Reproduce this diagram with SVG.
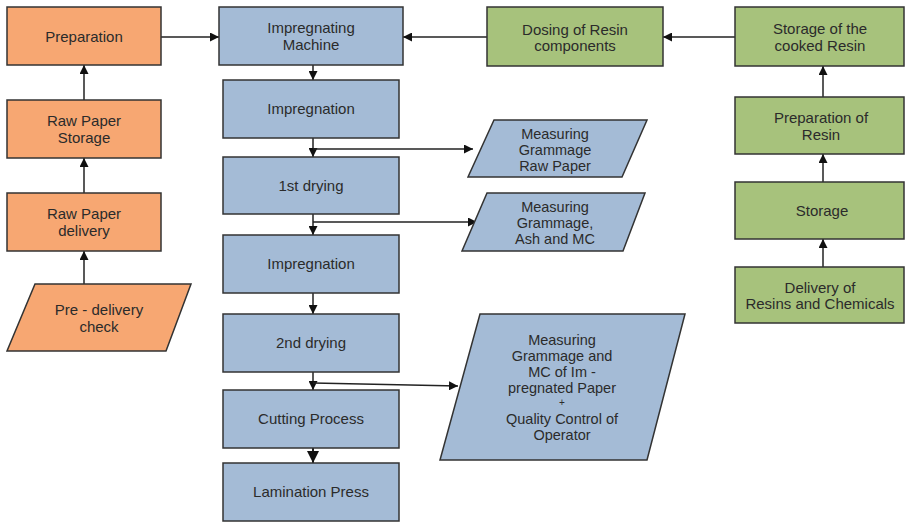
<svg xmlns="http://www.w3.org/2000/svg" width="905" height="522" viewBox="0 0 905 522">
<defs>
<marker id="ah" viewBox="0 0 10 10" refX="10" refY="5" markerWidth="9" markerHeight="9" markerUnits="userSpaceOnUse" orient="auto">
<path d="M0,0 L10,5 L0,10 z" fill="#111"/>
</marker>
<marker id="ahb" viewBox="0 0 10 10" refX="10" refY="5" markerWidth="12" markerHeight="12" markerUnits="userSpaceOnUse" orient="auto">
<path d="M0,0 L10,5 L0,10 z" fill="#111"/>
</marker>
</defs>
<style>
.o{fill:#F7A772;stroke:#333;stroke-width:1.5}
.b{fill:#A4BBD6;stroke:#333;stroke-width:1.5}
.g{fill:#A7C27C;stroke:#333;stroke-width:1.5}
text{font-family:"Liberation Sans",Arial,sans-serif;font-size:15px;fill:#2b2b2b;text-anchor:middle}
.s{font-size:14.5px}
.c line,.c path{stroke:#222;stroke-width:1.5;fill:none;marker-end:url(#ah)}
</style>
<rect width="905" height="522" fill="#fff"/>

<g class="c" id="connectors">
<line x1="84" y1="284" x2="84" y2="251"/>
<line x1="84" y1="193" x2="84" y2="158"/>
<line x1="84" y1="100" x2="84" y2="65"/>
<line x1="161" y1="37" x2="219" y2="37"/>
<line x1="487" y1="37" x2="403" y2="37"/>
<line x1="735" y1="37" x2="663" y2="37"/>
<line x1="823" y1="97" x2="823" y2="66"/>
<line x1="823" y1="182" x2="823" y2="154"/>
<line x1="823" y1="267" x2="823" y2="239"/>
<line x1="313" y1="65" x2="313" y2="80"/>
<line x1="313" y1="138" x2="313" y2="157"/>
<line x1="313" y1="149" x2="473" y2="149"/>
<line x1="313" y1="214" x2="313" y2="235"/>
<line x1="313" y1="222" x2="477" y2="222"/>
<line x1="313" y1="293" x2="313" y2="314"/>
<line x1="313" y1="372" x2="313" y2="390"/>
<line x1="313" y1="383" x2="458" y2="386"/>
<line x1="313" y1="448" x2="313" y2="463" style="marker-end:url(#ahb);stroke-width:2"/>
</g>

<g id="preparation"><rect class="o" x="7" y="7" width="154" height="58"/><text x="84" y="42">Preparation</text></g>
<g id="raw-paper-storage"><rect class="o" x="7" y="100" width="154" height="58"/><text x="84" y="126">Raw Paper</text><text x="84" y="143">Storage</text></g>
<g id="raw-paper-delivery"><rect class="o" x="7" y="193" width="154" height="58"/><text x="84" y="219">Raw Paper</text><text x="84" y="236">delivery</text></g>
<g id="pre-delivery-check"><polygon class="o" points="35,284 191,284 166,351 7,351"/><text x="99" y="315">Pre - delivery</text><text x="99" y="332">check</text></g>

<g id="impregnating-machine"><rect class="b" x="219" y="7" width="184" height="58"/><text x="311" y="33">Impregnating</text><text x="311" y="50">Machine</text></g>
<g id="impregnation-1"><rect class="b" x="223" y="80" width="176" height="58"/><text x="311" y="114">Impregnation</text></g>
<g id="first-drying"><rect class="b" x="223" y="157" width="176" height="57"/><text x="311" y="191">1st drying</text></g>
<g id="impregnation-2"><rect class="b" x="223" y="235" width="176" height="58"/><text x="311" y="269">Impregnation</text></g>
<g id="second-drying"><rect class="b" x="223" y="314" width="176" height="58"/><text x="311" y="348">2nd drying</text></g>
<g id="cutting-process"><rect class="b" x="223" y="390" width="176" height="58"/><text x="311" y="424">Cutting Process</text></g>
<g id="lamination-press"><rect class="b" x="223" y="463" width="176" height="58"/><text x="311" y="497">Lamination Press</text></g>

<g id="measuring-raw-paper"><polygon class="b" points="494,120 647,120 622,177 468,177"/><text class="s" x="555" y="139">Measuring</text><text class="s" x="555" y="155">Grammage</text><text class="s" x="555" y="171">Raw Paper</text></g>
<g id="measuring-ash-mc"><polygon class="b" points="487,193 645,193 623,251 462,251"/><text class="s" x="555" y="212">Measuring</text><text class="s" x="555" y="228">Grammage,</text><text class="s" x="555" y="244">Ash and MC</text></g>
<g id="measuring-impregnated"><polygon class="b" points="480,314 685,314 647,460 440,460"/><text class="s" x="562" y="345">Measuring</text><text class="s" x="562" y="361">Grammage and</text><text class="s" x="562" y="377">MC of Im -</text><text class="s" x="562" y="393">pregnated Paper</text><text x="562" y="406" style="font-size:10px">+</text><text class="s" x="562" y="424">Quality Control of</text><text class="s" x="562" y="440">Operator</text></g>

<g id="dosing-resin"><rect class="g" x="487" y="7" width="176" height="59"/><text x="575" y="35">Dosing of Resin</text><text x="575" y="51">components</text></g>
<g id="storage-cooked-resin"><rect class="g" x="735" y="7" width="169" height="59"/><text x="820" y="34">Storage of the</text><text x="820" y="51">cooked Resin</text></g>
<g id="preparation-resin"><rect class="g" x="735" y="97" width="169" height="57"/><text x="821" y="123">Preparation of</text><text x="821" y="140">Resin</text></g>
<g id="storage"><rect class="g" x="735" y="182" width="169" height="57"/><text x="822" y="216">Storage</text></g>
<g id="delivery-resins"><rect class="g" x="735" y="267" width="169" height="56"/><text x="820" y="293">Delivery of</text><text x="820" y="309">Resins and Chemicals</text></g>
</svg>
